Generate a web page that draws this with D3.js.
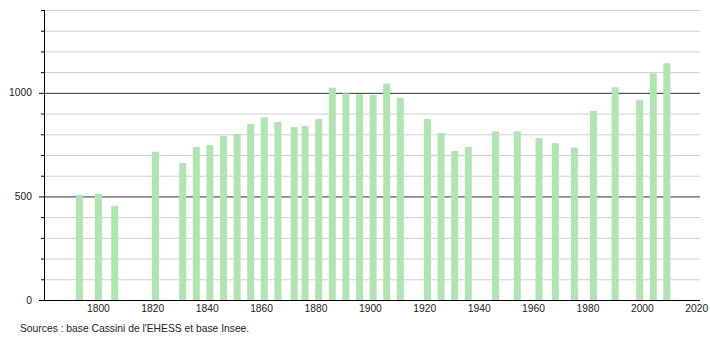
<!DOCTYPE html>
<html>
<head>
<meta charset="utf-8">
<script src="https://cdn.jsdelivr.net/npm/d3@7"></script>
<style>
  body { margin: 0; background: #fff; }
  text { font-family: "Liberation Sans", Arial, sans-serif; fill: #222; }
</style>
</head>
<body>
<svg id="chart" width="710" height="340"></svg>
<script>
// census years and population
const years = [1793, 1800, 1806, 1821, 1831, 1836, 1841, 1846, 1851, 1856,
  1861, 1866, 1872, 1876, 1881, 1886, 1891, 1896, 1901, 1906, 1911,
  1921, 1926, 1931, 1936, 1946, 1954, 1962, 1968, 1975, 1982, 1990,
  1999, 2004, 2009];
const population = [507, 512, 454, 716, 661, 739, 748, 793, 801, 850,
  882, 859, 835, 840, 874, 1025, 998, 993, 990, 1045, 975,
  874, 806, 719, 739, 814, 814, 782, 757, 736, 913, 1027,
  967, 1094, 1143];
const xTicks = [1800, 1820, 1840, 1860, 1880, 1900, 1920, 1940, 1960, 1980, 2000, 2020];
const yLabels = [0, 500, 1000];
const source = "Sources : base Cassini de l'EHESS et base Insee.";

const svg = d3.select("#chart");
const x = d3.scaleLinear().domain([1780, 2021]).range([44, 699.5]);
const y = d3.scaleLinear().domain([0, 1400]).range([300, 10]);

// minor grid every 100
const minor = d3.range(100, 1401, 100).filter(v => v % 500 !== 0);
svg.append("g")
  .selectAll("line")
  .data(minor)
  .join("line")
  .attr("x1", 44).attr("x2", 700)
  .attr("y1", d => y(d) + 0.5).attr("y2", d => y(d) + 0.5)
  .attr("stroke", "#cfcfcf");

// major grid
svg.append("g")
  .selectAll("line")
  .data([500, 1000])
  .join("line")
  .attr("x1", 44).attr("x2", 700)
  .attr("y1", d => y(d) + 0.5).attr("y2", d => y(d) + 0.5)
  .attr("stroke", "#333");

// bars
svg.append("g")
  .selectAll("rect")
  .data(years)
  .join("rect")
  .attr("x", d => x(d) - 3.5)
  .attr("width", 7)
  .attr("y", (d, i) => y(population[i]))
  .attr("height", (d, i) => y(0) - y(population[i]))
  .attr("fill", "#b0e4b0");

// y axis: small ticks every 100, longer at labelled values
svg.append("line")
  .attr("x1", 44.5).attr("x2", 44.5)
  .attr("y1", 10).attr("y2", 300)
  .attr("stroke", "#000");
svg.append("g")
  .selectAll("line")
  .data(d3.range(0, 1401, 100))
  .join("line")
  .attr("x1", d => (d % 500 === 0 ? 39 : 41))
  .attr("x2", 44)
  .attr("y1", d => y(d) + 0.5).attr("y2", d => y(d) + 0.5)
  .attr("stroke", "#000");
svg.append("g")
  .selectAll("text")
  .data(yLabels)
  .join("text")
  .attr("x", 32)
  .attr("y", d => y(d))
  .attr("dy", "0.35em")
  .attr("text-anchor", "end")
  .attr("font-size", "10.3px")
  .text(d => d);

// x axis
svg.append("line")
  .attr("x1", 44).attr("x2", 700)
  .attr("y1", 300.5).attr("y2", 300.5)
  .attr("stroke", "#000");
svg.append("g")
  .selectAll("text")
  .data(xTicks)
  .join("text")
  .attr("x", d => x(d))
  .attr("y", 312)
  .attr("text-anchor", "middle")
  .attr("font-size", "10.3px")
  .text(d => d);

svg.append("text")
  .attr("x", 20)
  .attr("y", 332)
  .attr("font-size", "10.3px")
  .text(source);
</script>
</body>
</html>
